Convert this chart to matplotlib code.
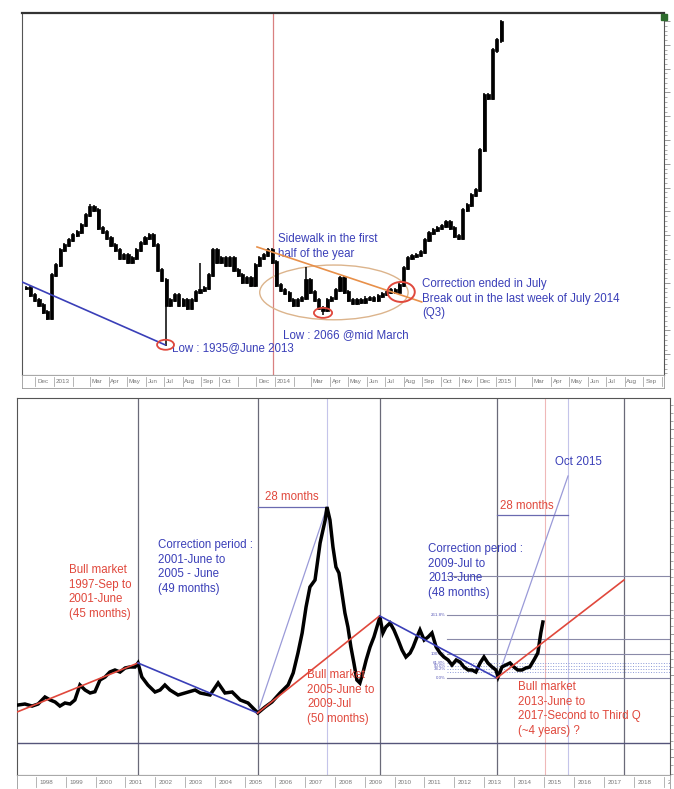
import matplotlib
matplotlib.use('Agg')
import matplotlib.pyplot as plt
import matplotlib.dates as mdates
from matplotlib.patches import Ellipse, Rectangle
from matplotlib.ticker import MultipleLocator, NullFormatter
import numpy as np
import pandas as pd

plt.rcParams['font.family'] = ['Liberation Sans', 'DejaVu Sans']

BLUE = '#3a3fb8'
RED = '#e0483c'
ORANGE = '#e8904a'
TAN = '#dcb48c'
LIGHT_PURPLE = '#9a9ad8'
GRID_DARK = '#6a6a78'

# ---------------- top chart: weekly closes, Nov 2012 - Jan 2015 ----------------
week_start = '2012-11-16'
week_closes = [2179, 2149, 2128, 2107, 2078, 2053,
               2233, 2275, 2338, 2359, 2380, 2401, 2414, 2443, 2485, 2519, 2506,
               2431, 2414, 2389, 2359, 2338, 2305, 2317, 2288, 2305, 2338, 2368, 2389, 2401,
               2359, 2254, 2212, 2107, 2128, 2149, 2107, 2128, 2095, 2128, 2162, 2170, 2179, 2233,
               2338, 2288, 2305, 2275, 2305, 2254, 2233, 2204, 2221, 2191, 2275, 2305, 2317, 2338, 2288,
               2191, 2170, 2158, 2128, 2107, 2128, 2137, 2212, 2162, 2128, 2095, 2086, 2128, 2137,
               2170, 2221, 2162, 2128, 2116, 2128, 2120, 2133, 2137, 2128, 2145, 2153, 2162, 2170,
               2162, 2191, 2263, 2305, 2313, 2317, 2330, 2380, 2410, 2422, 2431, 2439, 2456, 2431,
               2397, 2389, 2506, 2527, 2569, 2590, 2758, 2989, 2977, 3178, 3220, 3296]
wick_high = {15: 2530, 41: 2284, 66: 2267}
wick_low = {33: 1935, 70: 2066}

top_label_months = ['2012-12', '2013-01', '2013-03', '2013-04', '2013-05', '2013-06', '2013-07',
                    '2013-08', '2013-09', '2013-10', '2013-12', '2014-01', '2014-03', '2014-04',
                    '2014-05', '2014-06', '2014-07', '2014-08', '2014-09', '2014-10', '2014-11',
                    '2014-12', '2015-01', '2015-03', '2015-04', '2015-05', '2015-06', '2015-07',
                    '2015-08', '2015-09']
top_label_text = ['Dec', '2013', 'Mar', 'Apr', 'May', 'Jun', 'Jul', 'Aug', 'Sep', 'Oct', 'Dec',
                  '2014', 'Mar', 'Apr', 'May', 'Jun', 'Jul', 'Aug', 'Sep', 'Oct', 'Nov', 'Dec',
                  '2015', 'Mar', 'Apr', 'May', 'Jun', 'Jul', 'Aug', 'Sep']

# ---------------- bottom chart: long-term index, 1997 - 2015 ----------------
long_years = [1997.41, 1997.64, 1997.88, 1998.08, 1998.31, 1998.48, 1998.65, 1998.81, 1998.98,
              1999.15, 1999.31, 1999.48, 1999.65, 1999.82, 1999.98, 2000.15, 2000.32, 2000.48,
              2000.65, 2000.82, 2000.99, 2001.15, 2001.32, 2001.42, 2001.55, 2001.75, 2001.99,
              2002.16, 2002.32, 2002.49, 2002.76, 2002.99, 2003.33, 2003.50, 2003.83, 2004.10,
              2004.33, 2004.57, 2004.84, 2005.10, 2005.33, 2005.43, 2005.67, 2005.90, 2006.17,
              2006.44, 2006.61, 2006.77, 2006.91, 2007.04, 2007.17, 2007.34, 2007.51, 2007.68,
              2007.74, 2007.84, 2007.94, 2008.04, 2008.14, 2008.24, 2008.34, 2008.44, 2008.54,
              2008.64, 2008.74, 2008.84, 2008.94, 2009.05, 2009.18, 2009.31, 2009.41, 2009.51,
              2009.61, 2009.71, 2009.85, 2009.98, 2010.12, 2010.25, 2010.38, 2010.52, 2010.62,
              2010.75, 2010.85, 2010.99, 2011.12, 2011.25, 2011.39, 2011.52, 2011.65, 2011.79,
              2011.92, 2012.06, 2012.19, 2012.32, 2012.46, 2012.59, 2012.72, 2012.86, 2012.99,
              2013.12, 2013.26, 2013.39, 2013.46, 2013.59, 2013.72, 2013.86, 2013.99, 2014.12,
              2014.26, 2014.39, 2014.52, 2014.66, 2014.79, 2014.89, 2014.96]
long_close = [1276, 1300, 1250, 1300, 1471, 1400, 1349, 1250, 1325,
              1300, 1398, 1764, 1642, 1569, 1600, 1886, 1959, 2081,
              2130, 2080, 2179, 2203, 2203, 2301, 1959, 1764, 1593,
              1642, 1764, 1642, 1520, 1569, 1642, 1569, 1520, 1813,
              1569, 1593, 1398, 1325, 1154, 1081, 1227, 1349, 1569,
              1764, 2057, 2545, 3033, 3667, 4155, 4326, 5229, 5790,
              6107, 5790, 5131, 4643, 4497, 4009, 3521, 3179, 2691,
              2301, 1886, 1813, 2057, 2374, 2691, 2935, 3179, 3423,
              3033, 3179, 3277, 3106, 2862, 2618, 2447, 2545, 2691,
              2935, 3106, 2862, 2935, 3033, 2691, 2545, 2447, 2374,
              2252, 2374, 2325, 2203, 2130, 2130, 2081, 2301, 2447,
              2301, 2203, 2130, 1959, 2203, 2252, 2301, 2203, 2130,
              2130, 2179, 2203, 2374, 2545, 3033, 3301]

cycle_years = [1997.375, 2001.42, 2005.42, 2009.5, 2013.42, 2017.67]
cycle_levels = [1105, 2301, 1081, 3450, 1935, 4326]

fib_low = 1935
fib_high = 2520
fib_ratios = [0.0, 0.236, 0.382, 0.5, 0.618, 1.0, 1.618, 2.618, 4.236]
fib_labels = ['0.0%', '', '38.2%', '50.0%', '61.8%', '100.0%', '', '261.8%', '']

year_labels = list(range(1998, 2020))

fig = plt.figure(figsize=(6.74, 7.89), dpi=100)

# ======================= top panel =======================
ax = fig.add_axes([22 / 674, 1 - 375 / 789, 642 / 674, 362 / 789])
dates = pd.date_range(week_start, periods=len(week_closes), freq='7D')
x = mdates.date2num(dates)
closes = np.array(week_closes, dtype=float)
opens = np.concatenate([[closes[0]], closes[:-1]])
highs = np.maximum(opens, closes) + 10
lows = np.minimum(opens, closes) - 10
for k, v in wick_high.items():
    highs[k] = v
for k, v in wick_low.items():
    lows[k] = v
ax.vlines(x, lows, highs, color='black', lw=1.1, zorder=3)
ax.bar(x, np.abs(closes - opens) + 6, bottom=np.minimum(opens, closes) - 3, width=5.2,
       color='black', edgecolor='black', lw=0.5, zorder=3)

d = mdates.datestr2num
ax.set_xlim(d('2012-11-09'), d('2015-10-05'))
ax.set_ylim(1813, 3334)

# annotations
ax.axvline(d('2013-12-28'), color='#d98080', lw=0.9, zorder=1)
ax.plot([d('2012-11-09'), d('2013-07-03')], [2204, 1940], color=BLUE, lw=1.2, zorder=4)
ax.add_patch(Ellipse((d('2013-07-04'), 1940), 28, 42, fill=False, ec=RED, lw=1.3, zorder=5))
ax.text(d('2013-07-15'), 1927, 'Low : 1935@June 2013', color=BLUE, fontsize=8.3,
        va='center', ha='left')
ax.plot([d('2013-12-02'), d('2014-08-31')], [2351, 2120], color=ORANGE, lw=1.2, zorder=4)
ax.add_patch(Ellipse((d('2014-04-08'), 2160), 245, 230, fill=False, ec=TAN, lw=1.0, zorder=2))
ax.add_patch(Ellipse((x[70], 2074), 30, 42, fill=False, ec=RED, lw=1.3, zorder=5))
ax.add_patch(Ellipse((d('2014-07-28'), 2162), 45, 84, fill=False, ec=RED, lw=1.4, zorder=5))
ax.text(d('2014-01-06'), 2410, 'Sidewalk in the first\nhalf of the year', color=BLUE,
        fontsize=8.3, va='top', ha='left', linespacing=1.3)
ax.text(d('2014-01-14'), 1981, 'Low : 2066 @mid March', color=BLUE, fontsize=8.3,
        va='center', ha='left')
ax.text(d('2014-09-01'), 2221,
        'Correction ended in July\nBreak out in the last week of July 2014\n(Q3)',
        color=BLUE, fontsize=8.3, va='top', ha='left', linespacing=1.3)

ax.set_xticks([])
ax.yaxis.set_ticks_position('right')
ax.yaxis.set_major_locator(MultipleLocator(100))
ax.yaxis.set_minor_locator(MultipleLocator(20))
ax.yaxis.set_major_formatter(NullFormatter())
ax.tick_params(axis='y', which='major', length=4, color='#888', width=0.6)
ax.tick_params(axis='y', which='minor', length=2, color='#888', width=0.5)
for s in ax.spines.values():
    s.set_color('#555')
    s.set_linewidth(0.8)
ax.spines['top'].set_linewidth(1.6)
ax.spines['top'].set_color('#333')

# top date strip
axs = fig.add_axes([22 / 674, 1 - 388 / 789, 642 / 674, 13 / 789])
axs.set_xlim(ax.get_xlim())
axs.set_ylim(0, 1)
for m in pd.date_range('2012-11-01', '2015-10-01', freq='MS'):
    axs.plot([mdates.date2num(m)] * 2, [0.15, 0.85], color='#aaa', lw=0.6)
for m, t in zip(top_label_months, top_label_text):
    axs.text(d(m + '-01') + 3, 0.5, t, fontsize=4.5, color='#777', va='center', ha='left',
             clip_on=True)
axs.set_xticks([])
axs.set_yticks([])
for s in axs.spines.values():
    s.set_color('#999')
    s.set_linewidth(0.6)

fig.patches.append(Rectangle((661 / 674, 1 - 20 / 789), 6 / 674, 6 / 789,
                             transform=fig.transFigure, color='#2d6b2d'))

# ======================= bottom panel =======================
bx = fig.add_axes([17 / 674, 1 - 775 / 789, 653 / 674, 377 / 789])
bx.set_xlim(1997.375, 2019.21)
bx.set_ylim(-432, 8767)

for yv in [2001.42, 2005.42, 2009.5, 2013.42, 2017.67]:
    bx.axvline(yv, color=GRID_DARK, lw=0.9, zorder=1)
bx.axvline(2007.74, color='#c4c4ea', lw=0.8, zorder=1)
bx.axvline(2015.8, color='#c4c4ea', lw=0.8, zorder=1)
bx.axvline(2015.03, color='#efb8b8', lw=0.8, zorder=1)
bx.axhline(350, color='#55557a', lw=1.0, zorder=1)

# fibonacci levels
fib_start = 2011.76
for r, lab in zip(fib_ratios, fib_labels):
    lvl = fib_low + r * (fib_high - fib_low)
    if r in (0.236, 0.382, 0.5, 0.618):
        bx.plot([fib_start, 2019.21], [lvl, lvl], color='#8c9ad8', lw=0.7, ls=':', zorder=1)
    else:
        bx.plot([fib_start, 2019.21], [lvl, lvl], color='#8a8aa8', lw=0.8, zorder=1)
    if lab:
        bx.text(fib_start - 0.05, lvl, lab, fontsize=3.2, color='#5a5ab8', ha='right',
                va='center')

bx.plot(long_years, long_close, color='black', lw=2.5, zorder=3, solid_joinstyle='miter')

# cycle lines
for i in range(len(cycle_years) - 1):
    col = RED if cycle_levels[i + 1] > cycle_levels[i] else BLUE
    bx.plot(cycle_years[i:i + 2], cycle_levels[i:i + 2], color=col, lw=1.2, zorder=4)

# 28 months projections
bx.plot([2005.42, 2007.74], [1081, 6107], color=LIGHT_PURPLE, lw=0.9, zorder=2)
bx.plot([2005.42, 2007.74], [6107, 6107], color='#6a6ab0', lw=0.9, zorder=2)
bx.plot([2013.45, 2015.8], [1935, 6864], color=LIGHT_PURPLE, lw=0.9, zorder=2)
bx.plot([2013.42, 2015.8], [5912, 5912], color='#6a6ab0', lw=0.9, zorder=2)

kw = dict(fontsize=8.3, ha='left', va='top', linespacing=1.3)
bx.text(1999.11, 4717, 'Bull market\n1997-Sep to\n2001-June\n(45 months)', color=RED, **kw)
bx.text(2002.09, 5327, 'Correction period :\n2001-June to\n2005 - June\n(49 months)',
        color=BLUE, **kw)
bx.text(2005.67, 6351, '28 months', color=RED, fontsize=8.3, ha='left', va='center')
bx.text(2007.08, 2155, 'Bull market\n2005-June to\n2009-Jul\n(50 months)', color=RED, **kw)
bx.text(2011.12, 5229, 'Correction period :\n2009-Jul to\n2013-June\n(48 months)',
        color=BLUE, **kw)
bx.text(2015.37, 7205, 'Oct 2015', color=BLUE, fontsize=8.3, ha='left', va='center')
bx.text(2013.53, 6132, '28 months', color=RED, fontsize=8.3, ha='left', va='center')
bx.text(2014.13, 1862, 'Bull market\n2013-June to\n2017-Second to Third Q\n(~4 years) ?',
        color=RED, **kw)

bx.set_xticks([])
bx.yaxis.set_ticks_position('right')
bx.yaxis.set_major_locator(MultipleLocator(1000))
bx.yaxis.set_minor_locator(MultipleLocator(200))
bx.yaxis.set_major_formatter(NullFormatter())
bx.tick_params(axis='y', which='major', length=4, color='#888', width=0.6)
bx.tick_params(axis='y', which='minor', length=2, color='#888', width=0.5)
for s in bx.spines.values():
    s.set_color('#555')
    s.set_linewidth(0.8)

# bottom date strip
bxs = fig.add_axes([17 / 674, 0.0, 653 / 674, 14 / 789])
bxs.set_xlim(bx.get_xlim())
bxs.set_ylim(0, 1)
for yr in year_labels:
    bxs.plot([yr, yr], [0.15, 0.85], color='#aaa', lw=0.6)
    bxs.text(yr + 0.12, 0.5, str(yr), fontsize=4.5, color='#777', va='center', ha='left',
             clip_on=True)
bxs.set_xticks([])
bxs.set_yticks([])
for s in bxs.spines.values():
    s.set_color('#999')
    s.set_linewidth(0.6)

fig.savefig('out.png', dpi=100)
